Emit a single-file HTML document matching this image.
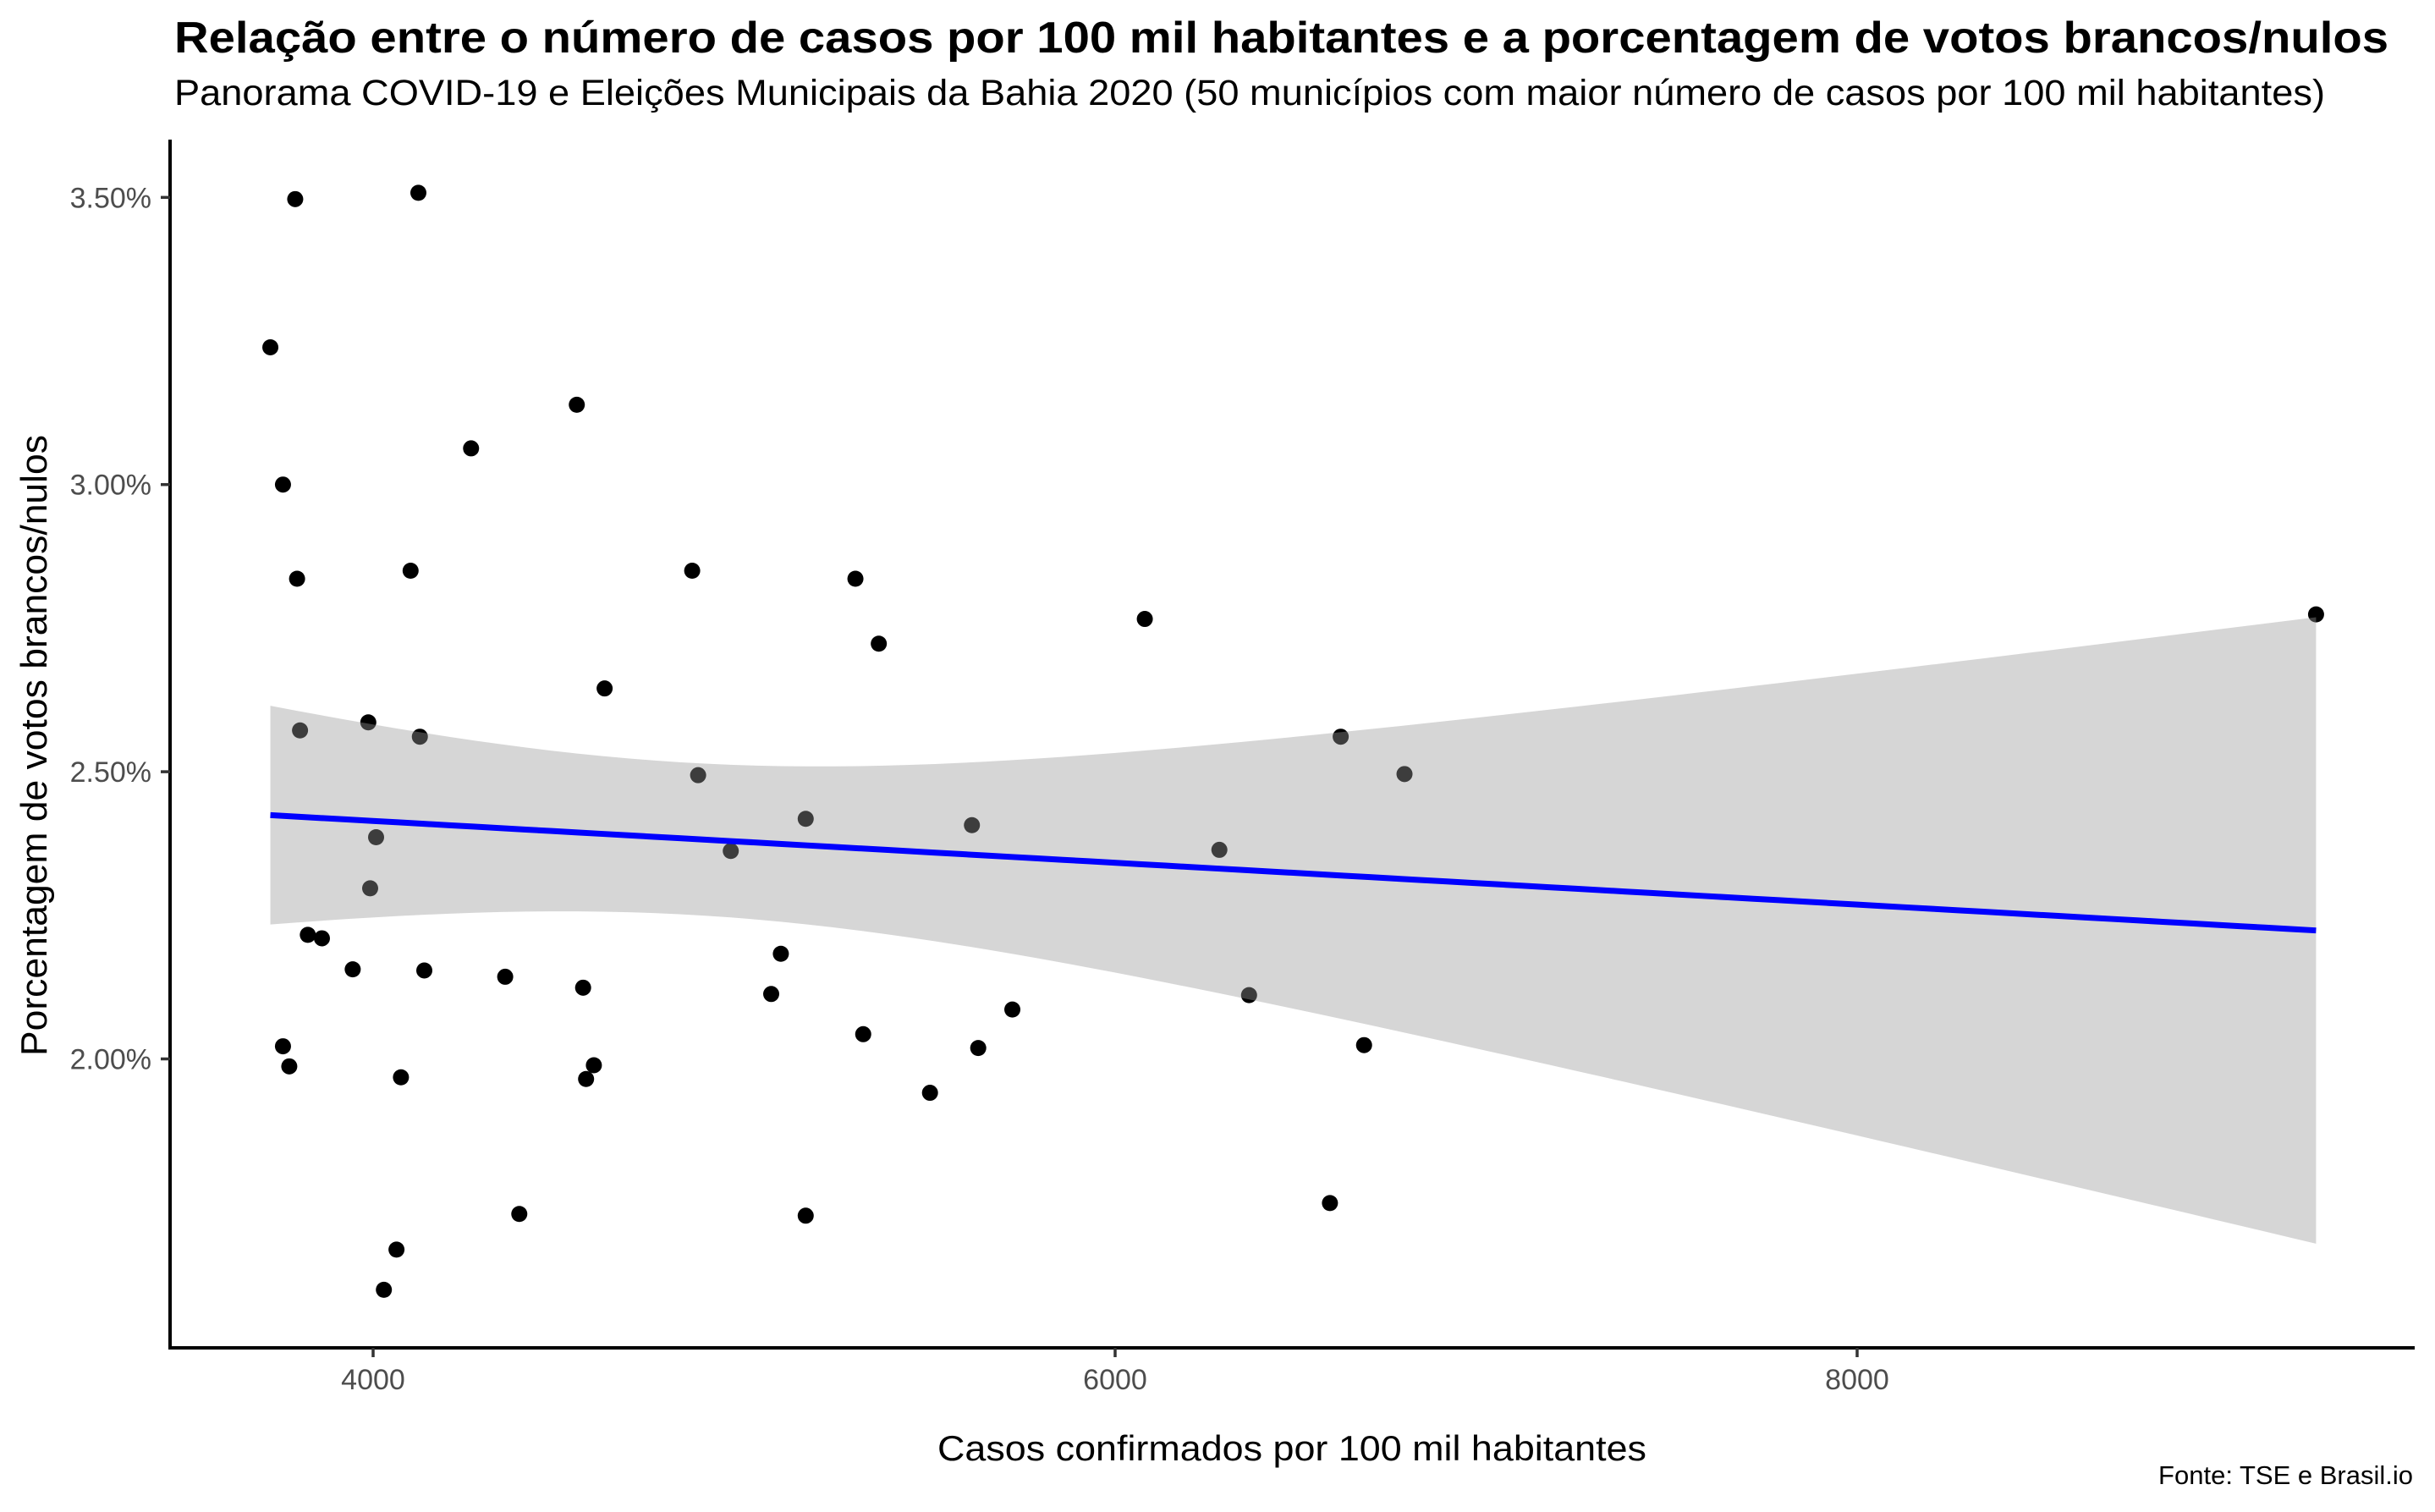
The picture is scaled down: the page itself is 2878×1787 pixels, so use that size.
<!DOCTYPE html>
<html><head><meta charset="utf-8"><style>html,body{margin:0;padding:0;background:#fff}svg{display:block}text{font-family:"Liberation Sans",Arial,sans-serif}</style></head>
<body>
<svg id="chart" width="2878" height="1787" viewBox="0 0 2878 1787" xmlns="http://www.w3.org/2000/svg">
<rect width="2878" height="1787" fill="#fff"/>
<text x="206" y="62" font-size="52" font-weight="bold" fill="#000" textLength="2617" lengthAdjust="spacingAndGlyphs">Relação entre o número de casos por 100 mil habitantes e a porcentagem de votos brancos/nulos</text>
<text x="206" y="124" font-size="43" fill="#000" textLength="2542" lengthAdjust="spacingAndGlyphs">Panorama COVID-19 e Eleições Municipais da Bahia 2020 (50 municípios com maior número de casos por 100 mil habitantes)</text>
<g id="points"></g>
<g id="smooth"></g>
<g id="axes"></g>
<text x="1527" y="1726" font-size="42" text-anchor="middle" fill="#000" textLength="838" lengthAdjust="spacingAndGlyphs">Casos confirmados por 100 mil habitantes</text>
<text transform="translate(55,881) rotate(-90)" font-size="44" text-anchor="middle" fill="#000" textLength="734" lengthAdjust="spacingAndGlyphs">Porcentagem de votos brancos/nulos</text>
<text x="2852" y="1754" font-size="31" text-anchor="end" fill="#000">Fonte: TSE e Brasil.io</text>
</svg>
<script>
const casos = [3790,4122,3723,4549,4264,3757,3795,4101,4860,5300,5363,6080,4624,3803,3987,4126,4876,6608,6780,9237,4008,5166,5614,4964,6281,3992,3824,3862,3945,4138,4356,4566,5099,5073,6361,5723,3757,3774,5321,5631,6671,4075,4595,4574,5501,4394,5166,6579,4063,4029];
const votos = [3.497,3.508,3.239,3.139,3.063,3.00,2.836,2.850,2.850,2.836,2.723,2.766,2.645,2.572,2.586,2.561,2.494,2.561,2.496,2.774,2.386,2.418,2.407,2.362,2.364,2.297,2.216,2.210,2.156,2.154,2.143,2.124,2.183,2.113,2.111,2.086,2.022,1.987,2.043,2.019,2.024,1.968,1.989,1.965,1.941,1.730,1.727,1.749,1.668,1.598];
const xTicks = [4000,6000,8000];
const yTicks = [2.0,2.5,3.0,3.5];
const yTickLabels = ["2.00%","2.50%","3.00%","3.50%"];

const NS="http://www.w3.org/2000/svg";
const X0=201, X1=2854, Y0=165, Y1=1593;
function sx(v){return 441+(v-4000)*(877/2000);}
function sy(v){return 572.7+(3.0-v)*(339.4/0.5);}
function mk(tag,attrs,parent){const e=document.createElementNS(NS,tag);for(const k in attrs)e.setAttribute(k,attrs[k]);parent.appendChild(e);return e;}

const pg=document.getElementById('points');
casos.forEach((c,i)=>{
  const p=mk('circle',{cx:sx(c),cy:sy(votos[i]),r:9.5,fill:'#000'},pg);
  
  
});

const n=casos.length;
const mx=casos.reduce((a,b)=>a+b,0)/n, my=votos.reduce((a,b)=>a+b,0)/n;
let sxx=0,sxy=0;for(let i=0;i<n;i++){sxx+=(casos[i]-mx)**2;sxy+=(casos[i]-mx)*(votos[i]-my);}
const b=sxy/sxx,a=my-b*mx;
let sse=0;for(let i=0;i<n;i++){sse+=(votos[i]-a-b*casos[i])**2;}
const s=Math.sqrt(sse/(n-2)), t=2.0106;
const xmin=Math.min(...casos), xmax=Math.max(...casos);
const up=[],lo=[],mid=[];
for(let k=0;k<=80;k++){
  const xv=xmin+(xmax-xmin)*k/80;
  const yh=a+b*xv;
  const se=s*Math.sqrt(1/n+(xv-mx)**2/sxx);
  up.push([sx(xv),sy(yh+t*se)]);lo.push([sx(xv),sy(yh-t*se)]);mid.push([sx(xv),sy(yh)]);
}
const sg=document.getElementById('smooth');
const band=mk('path',{d:'M'+up.map(p=>p.join(',')).join('L')+'L'+lo.reverse().map(p=>p.join(',')).join('L')+'Z',fill:'rgb(153,153,153)','fill-opacity':0.4},sg);


const line=mk('path',{d:'M'+mid.map(p=>p.join(',')).join('L'),fill:'none',stroke:'#0000ff','stroke-width':7},sg);



const ag=document.getElementById('axes');
const xl=mk('line',{x1:X0-2,y1:Y1,x2:X1,y2:Y1,stroke:'#000','stroke-width':4},ag);


const yl=mk('line',{x1:X0,y1:Y0,x2:X0,y2:Y1+2,stroke:'#000','stroke-width':4},ag);


xTicks.forEach(v=>{
  const tk=mk('line',{x1:sx(v),y1:Y1,x2:sx(v),y2:Y1+11,stroke:'#333','stroke-width':3.5},ag);
  
  
  const tl=mk('text',{x:sx(v),y:1642,'font-size':34,'text-anchor':'middle',fill:'#4d4d4d'},ag);
  tl.textContent=v;
  
  
});
yTicks.forEach((v,i)=>{
  const tk=mk('line',{x1:X0-11,y1:sy(v),x2:X0,y2:sy(v),stroke:'#333','stroke-width':3.5},ag);
  
  
  const tl=mk('text',{x:179,y:sy(v)+12,'font-size':34,'text-anchor':'end',fill:'#4d4d4d'},ag);
  tl.textContent=yTickLabels[i];
  
  
});
</script>
</body></html>
